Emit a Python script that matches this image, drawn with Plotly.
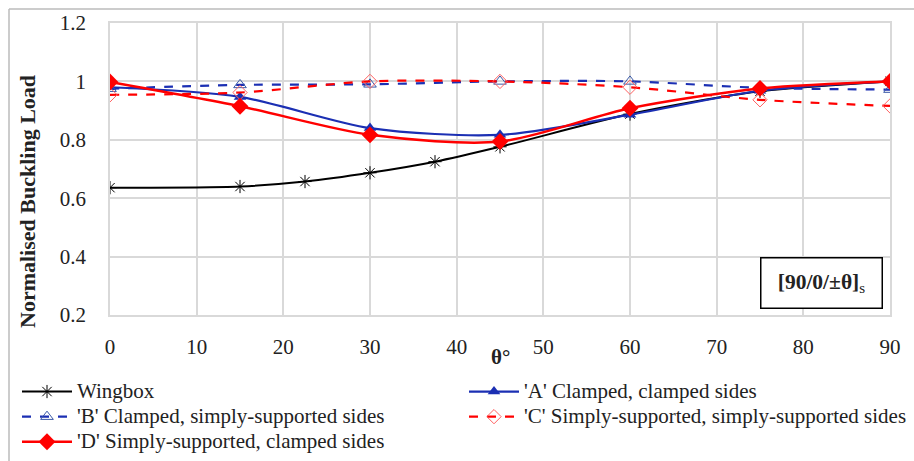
import plotly.graph_objects as go

theta = [0, 15, 30, 45, 60, 75, 90]
wing_x = [0, 15, 22.5, 30, 37.5, 45, 60, 75, 90]
wingbox = [0.636, 0.64, 0.657, 0.687, 0.725, 0.776, 0.888, 0.966, 1.0]
a_clamped = [0.98, 0.947, 0.84, 0.817, 0.886, 0.968, 1.0]
b_clamped_ss = [0.975, 0.988, 0.99, 1.0, 1.0, 0.978, 0.972]
c_ss_ss = [0.954, 0.962, 1.0, 1.0, 0.98, 0.937, 0.916]
d_ss_clamped = [0.998, 0.915, 0.817, 0.794, 0.908, 0.976, 1.0]

names = ["Wingbox",
         "'A' Clamped, clamped sides",
         "'B' Clamped, simply-supported sides",
         "'C' Simply-supported, simply-supported sides",
         "'D' Simply-supported, clamped sides"]

x_ticks = list(range(0, 91, 10))
y_ticks = [0.2, 0.4, 0.6, 0.8, 1.0, 1.2]
y_tick_text = ["0.2", "0.4", "0.6", "0.8", "1", "1.2"]

BLUE = "#1b2fb3"
RED = "#ff0000"
FONT = "Liberation Serif, Times New Roman, serif"
TXT = "#222222"


def leg(name):
    return '<span style="font-size:21px">' + name + '</span>'


fig = go.Figure()
fig.add_trace(go.Scatter(
    x=wing_x, y=wingbox, name=leg(names[0]), mode="lines+markers",
    line=dict(color="black", width=2, shape="spline", smoothing=0.8),
    marker=dict(symbol="asterisk-open", size=11, color="black",
                line=dict(color="#333333", width=1))))
fig.add_trace(go.Scatter(
    x=theta, y=a_clamped, name=leg(names[1]), mode="lines+markers",
    line=dict(color=BLUE, width=2.2, shape="spline", smoothing=0.8),
    marker=dict(symbol="triangle-up", size=11, color=BLUE)))
fig.add_trace(go.Scatter(
    x=theta, y=b_clamped_ss, name=leg(names[2]), mode="lines+markers",
    line=dict(color=BLUE, width=2.2, dash="dash", shape="spline", smoothing=0.8),
    marker=dict(symbol="triangle-up-open", size=11, color="#3b5aa8",
                line=dict(width=1))))
fig.add_trace(go.Scatter(
    x=theta, y=c_ss_ss, name=leg(names[3]), mode="lines+markers",
    line=dict(color=RED, width=2.2, dash="dash", shape="spline", smoothing=0.8),
    marker=dict(symbol="diamond-open", size=11, color="#ff6060",
                line=dict(width=1))))
fig.add_trace(go.Scatter(
    x=theta, y=d_ss_clamped, name=leg(names[4]), mode="lines+markers",
    line=dict(color=RED, width=2.5, shape="spline", smoothing=0.8),
    marker=dict(symbol="diamond", size=13, color=RED)))

L, R, T, B = 110, 24, 23, 146
W, H = 914, 461
pw, ph = W - L - R, H - T - B


def px_x(p):
    return (p - L) / pw


def px_y(p):
    return (H - B - p) / ph


fig.update_layout(
    width=W, height=H,
    margin=dict(l=L, r=R, t=T, b=B, autoexpand=False),
    paper_bgcolor="white", plot_bgcolor="white",
    font=dict(family=FONT, size=20, color=TXT),
    showlegend=True,
    legend=dict(orientation="h", x=px_x(17), y=px_y(374), xanchor="left", yanchor="top",
                entrywidth=382, entrywidthmode="pixels", tracegroupgap=0,
                font=dict(family=FONT, size=17, color=TXT),
                itemwidth=50, bgcolor="rgba(0,0,0,0)"),
    xaxis=dict(range=[0, 90], tickvals=x_ticks, showgrid=True, gridcolor="#d9d9d9",
               gridwidth=1.5, zeroline=False, showline=True, linecolor="#d9d9d9",
               linewidth=1.5, mirror=True, ticks="", ticklabelstandoff=12,
               tickfont=dict(family=FONT, size=21, color=TXT)),
    yaxis=dict(range=[0.2, 1.2], tickvals=y_ticks, ticktext=y_tick_text, showgrid=True,
               gridcolor="#d9d9d9", gridwidth=1.5, zeroline=False, showline=True,
               linecolor="#d9d9d9", linewidth=1.5, mirror=True, ticks="",
               ticklabelstandoff=18, tickfont=dict(family=FONT, size=21, color=TXT)),
    shapes=[
        dict(type="line", xref="paper", yref="paper", x0=px_x(9), x1=px_x(914),
             y0=px_y(9), y1=px_y(9), line=dict(color="#bbbbbb", width=1.5)),
        dict(type="line", xref="paper", yref="paper", x0=px_x(9), x1=px_x(9),
             y0=px_y(9), y1=px_y(461), line=dict(color="#bbbbbb", width=1.5)),
    ],
    annotations=[
        dict(text="<b>Normalised Buckling Load</b>", xref="paper", yref="paper",
             x=px_x(27), y=px_y(202), textangle=-90, showarrow=False,
             xanchor="center", yanchor="middle",
             font=dict(family=FONT, size=22, color=TXT)),
        dict(text="<b>θ°</b>", xref="paper", yref="paper", x=px_x(500), y=px_y(357),
             showarrow=False, xanchor="center", yanchor="middle",
             font=dict(family=FONT, size=21, color=TXT)),
        dict(text="<b>[90/0/±θ]</b><sub>s</sub>", xref="paper", yref="paper",
             x=px_x(821), y=px_y(282.5), showarrow=False, xanchor="center", yanchor="middle",
             width=102, height=31, align="center", valign="middle",
             bordercolor="black", borderwidth=1.5, borderpad=9, bgcolor="white",
             font=dict(family=FONT, size=21.5, color=TXT)),
    ],
)

fig.write_html("out.html", config={"displayModeBar": False},
               post_script="document.body.style.margin='0';document.body.style.overflow='hidden';")
